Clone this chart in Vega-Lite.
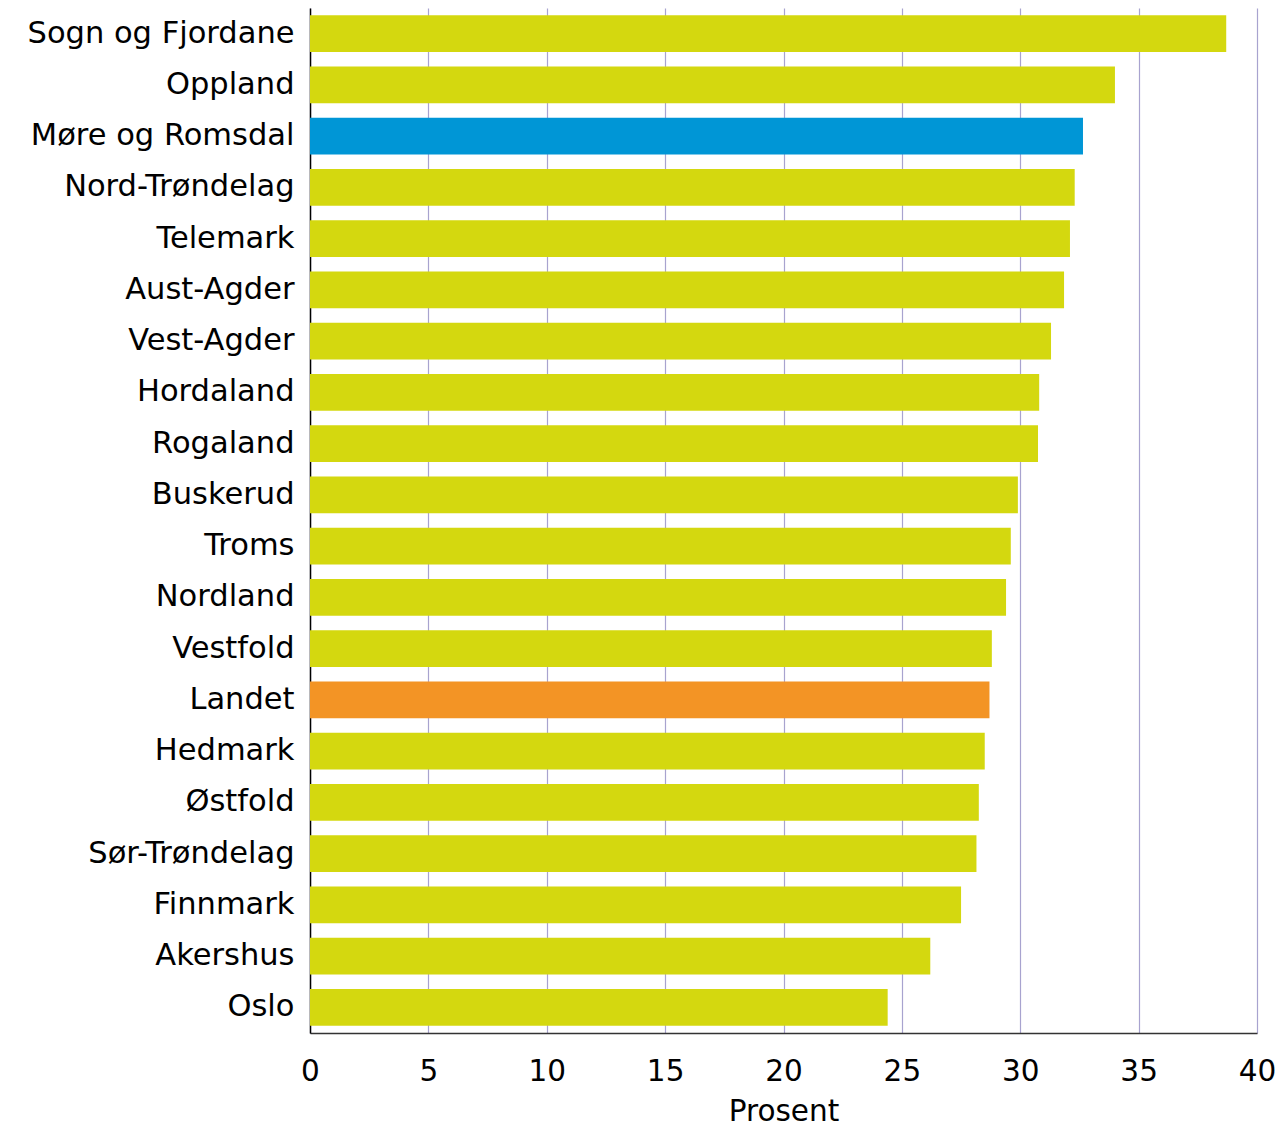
{
  "$schema": "https://vega.github.io/schema/vega-lite/v6.json",
  "width": 947,
  "height": 1025,
  "autosize": "none",
  "padding": {"left": 310, "top": 8, "right": 26, "bottom": 96},
  "background": "white",
  "config": {"view": {"stroke": null}, "font": "DejaVu Sans"},
  "data": {"values": [
    {"fylke": "Sogn og Fjordane", "prosent": 38.7, "type": "fylke"},
    {"fylke": "Oppland", "prosent": 34.0, "type": "fylke"},
    {"fylke": "Møre og Romsdal", "prosent": 32.65, "type": "mr"},
    {"fylke": "Nord-Trøndelag", "prosent": 32.3, "type": "fylke"},
    {"fylke": "Telemark", "prosent": 32.1, "type": "fylke"},
    {"fylke": "Aust-Agder", "prosent": 31.85, "type": "fylke"},
    {"fylke": "Vest-Agder", "prosent": 31.3, "type": "fylke"},
    {"fylke": "Hordaland", "prosent": 30.8, "type": "fylke"},
    {"fylke": "Rogaland", "prosent": 30.75, "type": "fylke"},
    {"fylke": "Buskerud", "prosent": 29.9, "type": "fylke"},
    {"fylke": "Troms ", "prosent": 29.6, "type": "fylke"},
    {"fylke": "Nordland", "prosent": 29.4, "type": "fylke"},
    {"fylke": "Vestfold", "prosent": 28.8, "type": "fylke"},
    {"fylke": "Landet", "prosent": 28.7, "type": "landet"},
    {"fylke": "Hedmark", "prosent": 28.5, "type": "fylke"},
    {"fylke": "Østfold", "prosent": 28.25, "type": "fylke"},
    {"fylke": "Sør-Trøndelag", "prosent": 28.15, "type": "fylke"},
    {"fylke": "Finnmark ", "prosent": 27.5, "type": "fylke"},
    {"fylke": "Akershus", "prosent": 26.2, "type": "fylke"},
    {"fylke": "Oslo", "prosent": 24.4, "type": "fylke"}
  ]},
  "mark": {"type": "bar"},
  "encoding": {
    "y": {
      "field": "fylke", "type": "nominal", "sort": null,
      "scale": {"paddingInner": 0.28, "paddingOuter": 0.14},
      "axis": {
        "title": null, "ticks": false, "labelPadding": 16,
        "labelFontSize": 30.5, "labelColor": "#000000", "labelFont": "DejaVu Sans",
        "domainColor": "#000000", "domainWidth": 1.5, "grid": false, "labelLimit": 400
      }
    },
    "x": {
      "field": "prosent", "type": "quantitative",
      "scale": {"domain": [0, 40], "nice": false},
      "axis": {
        "title": "Prosent", "titleFontSize": 29.5, "titleFontWeight": "normal", "titleColor": "#000000",
        "titleFont": "DejaVu Sans", "titlePadding": 12,
        "values": [0, 5, 10, 15, 20, 25, 30, 35, 40],
        "ticks": false, "labelPadding": 24, "labelFontSize": 29.5, "labelColor": "#000000",
        "labelFont": "DejaVu Sans", "labelFlush": false,
        "domainColor": "#333333", "domainWidth": 1.5,
        "grid": true, "gridColor": "#a8a3cf", "gridWidth": 1.2
      }
    },
    "color": {
      "field": "type", "type": "nominal", "legend": null,
      "scale": {"domain": ["fylke", "mr", "landet"], "range": ["#d4d80f", "#0096d6", "#f39425"]}
    }
  }
}
